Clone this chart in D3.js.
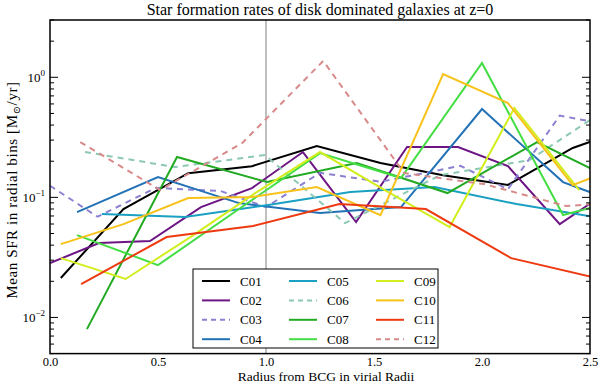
<!DOCTYPE html>
<html>
<head>
<meta charset="utf-8">
<script src="https://cdn.jsdelivr.net/npm/d3@7"></script>
<style>
  body { margin: 0; background: #fff; }
  svg text { font-family: "Liberation Serif", "DejaVu Serif", serif; fill: #000; }
</style>
</head>
<body>
<script>
// cluster names, legend order
var clusters = ["C01","C02","C03","C04","C05","C06","C07","C08","C09","C10","C11","C12"];
var colors = ["#000000","#6e1585","#8c80d2","#2372b6","#1aa0c2","#8cc8b4","#22aa22","#44dd44","#d2ee1e","#f7c21a","#ee3a10","#d88a8a"];
var dashed = [false,false,true,false,false,true,false,false,false,false,false,true];

// radius (virial radii) and mean SFR (Msun/yr) for each cluster
var radC01 = [0.05,0.34,0.64,0.935,1.235,1.53,1.82,2.12,2.42,2.55];
var sfrC01 = [0.0213,0.080,0.159,0.182,0.268,0.193,0.153,0.127,0.258,0.312];
var radC02 = [0.0,0.227,0.463,0.699,0.935,1.171,1.417,1.653,1.889,2.12,2.36,2.60];
var sfrC02 = [0.0284,0.0416,0.0433,0.083,0.1195,0.2385,0.0623,0.2625,0.2625,0.182,0.0599,0.1173];
var radC03 = [0.0,0.22,0.49,0.79,1.0,1.25,1.53,1.90,2.12,2.36,2.50];
var sfrC03 = [0.125,0.069,0.120,0.113,0.083,0.160,0.135,0.183,0.117,0.48,0.43];
var radC04 = [0.125,0.5,0.875,1.25,1.625,2.0,2.375,2.75];
var sfrC04 = [0.0754,0.1476,0.0896,0.074,0.083,0.544,0.1341,0.0754];
var radC05 = [0.24,0.625,1.01,1.39,1.78,2.16,2.55];
var sfrC05 = [0.0726,0.0685,0.0863,0.1107,0.1219,0.0879,0.0672];
var radC06 = [0.162,0.579,0.995,1.366,1.806,2.22,2.5];
var sfrC06 = [0.2385,0.1788,0.2251,0.0611,0.153,0.2046,0.4406];
var radC07 = [0.171,0.588,1.005,1.42,1.84,2.255,2.67];
var sfrC07 = [0.0080,0.2168,0.1341,0.1932,0.1086,0.2891,0.1242];
var radC08 = [0.125,0.5,0.875,1.25,1.625,2.0,2.375,2.75];
var sfrC08 = [0.0485,0.0273,0.080,0.2339,0.1449,1.315,0.0712,0.1066];
var radC09 = [0.05,0.35,0.65,0.95,1.25,1.55,1.85,2.15,2.45];
var sfrC09 = [0.0312,0.0209,0.0467,0.1086,0.2385,0.1151,0.0566,0.5548,0.1151];
var radC10 = [0.05,0.34,0.64,0.935,1.235,1.53,1.82,2.12,2.42,2.72];
var sfrC10 = [0.0408,0.0599,0.0987,0.1006,0.1219,0.0712,1.065,0.6106,0.1266,0.2046];
var radC11 = [0.144,0.54,0.94,1.34,1.74,2.135,2.53];
var sfrC11 = [0.01895,0.0467,0.0577,0.0879,0.0799,0.0312,0.0213];
var radC12 = [0.14,0.51,0.89,1.265,1.64,2.01,2.39,2.76];
var sfrC12 = [0.289,0.1151,0.2835,1.367,0.1594,0.129,0.0846,0.095];

var radii = [radC01,radC02,radC03,radC04,radC05,radC06,radC07,radC08,radC09,radC10,radC11,radC12];
var sfrs  = [sfrC01,sfrC02,sfrC03,sfrC04,sfrC05,sfrC06,sfrC07,sfrC08,sfrC09,sfrC10,sfrC11,sfrC12];

var xTicks = [0.0,0.5,1.0,1.5,2.0,2.5];
var yMajor = [0.01,0.1,1];
var yMajorExp = ["\u22122","\u22121","0"];

var W = 600, H = 384;
var pl = 50, pr = 590, pt = 20, pb = 353.6;

var svg = d3.select("body").append("svg")
    .attr("width", W)
    .attr("height", H);

var x = d3.scaleLinear().domain([0, 2.5]).range([pl, pr]);
var y = d3.scaleLog().domain([0.005, 3]).range([pb, pt]);

svg.append("clipPath").attr("id", "plotclip")
  .append("rect")
    .attr("x", pl).attr("y", pt)
    .attr("width", pr - pl).attr("height", pb - pt);

// vertical reference at r = Rvir
svg.append("line")
    .attr("x1", x(1)).attr("x2", x(1))
    .attr("y1", pt).attr("y2", pb)
    .attr("stroke", "#808080")
    .attr("stroke-width", 1);

var line = d3.line()
    .x(function(d){ return x(d[0]); })
    .y(function(d){ return y(d[1]); });

var plot = svg.append("g").attr("clip-path", "url(#plotclip)");
for(var i = 0; i < clusters.length; i++){
  var pts = radii[i].map(function(r, j){ return [r, sfrs[i][j]]; });
  plot.append("path")
      .attr("d", line(pts))
      .attr("fill", "none")
      .attr("stroke", colors[i])
      .attr("stroke-width", 2)
      .attr("stroke-dasharray", dashed[i] ? "6,5" : null);
}

// frame
svg.append("rect")
    .attr("x", pl).attr("y", pt)
    .attr("width", pr - pl).attr("height", pb - pt)
    .attr("fill", "none")
    .attr("stroke", "#000")
    .attr("stroke-width", 1.5);

// x tick labels only (no tick marks in the original)
var xAxisB = d3.axisBottom(x).tickValues(xTicks).tickSize(0).tickPadding(4).tickFormat(d3.format(".1f"));
var gxb = svg.append("g").attr("transform", "translate(0," + pb + ")").call(xAxisB);
gxb.select(".domain").remove();
gxb.selectAll("line").remove();
gxb.selectAll("text").attr("font-size", 12.5).attr("font-family", "Liberation Serif");

// y ticks: major + minor, inside on both sides
var minor = [];
[0.001,0.01,0.1,1].forEach(function(dec){
  for(var k = 2; k <= 9; k++){
    var v = dec * k;
    if(v >= 0.005 && v <= 3) minor.push(v);
  }
});
[[pl, 1], [pr, -1]].forEach(function(s){
  var g = svg.append("g");
  g.selectAll("line.maj").data(yMajor).enter().append("line")
      .attr("x1", s[0]).attr("x2", s[0] + s[1] * 8)
      .attr("y1", function(d){ return y(d); }).attr("y2", function(d){ return y(d); })
      .attr("stroke", "#000").attr("stroke-width", 1);
  g.selectAll("line.min").data(minor).enter().append("line")
      .attr("x1", s[0]).attr("x2", s[0] + s[1] * 4)
      .attr("y1", function(d){ return y(d); }).attr("y2", function(d){ return y(d); })
      .attr("stroke", "#000").attr("stroke-width", 1);
});

// y tick labels 10^n
yMajor.forEach(function(v, i){
  var t = svg.append("text")
      .attr("x", pl - 5)
      .attr("y", y(v) + 5)
      .attr("text-anchor", "end")
      .attr("font-size", 13);
  t.append("tspan").text("10");
  t.append("tspan").attr("dy", -6).attr("font-size", 9).text(yMajorExp[i]);
});

// title and axis labels
svg.append("text")
    .attr("x", (pl + pr) / 2).attr("y", 15)
    .attr("text-anchor", "middle")
    .attr("font-size", 16)
    .text("Star formation rates of disk dominated galaxies at z=0");

svg.append("text")
    .attr("x", 326).attr("y", 381)
    .attr("text-anchor", "middle")
    .attr("font-size", 13.5)
    .text("Radius from BCG in virial Radii");

var yl = svg.append("text")
    .attr("transform", "translate(17,190) rotate(-90)")
    .attr("text-anchor", "middle")
    .attr("font-size", 15)
    .attr("letter-spacing", 0.6);
yl.append("tspan").text("Mean SFR in radial bins [M");
yl.append("tspan").attr("dy", 3).attr("font-size", 10).text("\u2299");
yl.append("tspan").attr("dy", -3).text("/yr]");

// legend
var lg = svg.append("g");
lg.append("rect")
    .attr("x", 193).attr("y", 269)
    .attr("width", 245).attr("height", 79)
    .attr("fill", "#fff")
    .attr("stroke", "#000")
    .attr("stroke-width", 1);
clusters.forEach(function(name, i){
  var col = Math.floor(i / 4), row = i % 4;
  var lx = 202 + col * 87, ly = 281 + row * 19.4;
  lg.append("line")
      .attr("x1", lx).attr("x2", lx + 28)
      .attr("y1", ly).attr("y2", ly)
      .attr("stroke", colors[i])
      .attr("stroke-width", 2)
      .attr("stroke-dasharray", dashed[i] ? "5,4" : null);
  lg.append("text")
      .attr("x", lx + 38).attr("y", ly + 4.5)
      .attr("font-size", 13)
      .text(name);
});
</script>
</body>
</html>
